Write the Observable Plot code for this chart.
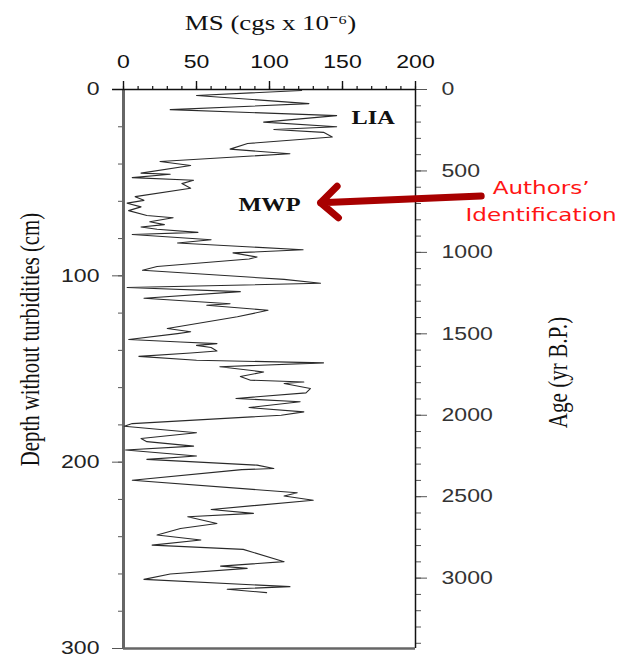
<!DOCTYPE html>
<html>
<head>
<meta charset="utf-8">
<script src="https://cdn.jsdelivr.net/npm/d3@7"></script>
<script src="https://cdn.jsdelivr.net/npm/@observablehq/plot@0.6"></script>
<style>
  html, body { margin: 0; padding: 0; background: #fff; }
  #chart svg { display: block; }
</style>
</head>
<body>
<div id="chart"></div>
<script>
// Magnetic susceptibility profile of the core, depth without turbidites
const depthCm = [
  0.5, 3.2, 7.6, 10.8, 14, 17.5, 20, 21.5, 23, 25.5, 29, 32, 34.5, 38.6, 40.8,
  44.9, 45.5, 47.3, 48.7, 50.5, 53, 57.5, 59.5, 61, 63, 65, 67.6, 68.8, 71, 72.5,
  73.8, 75, 76.7, 77.8, 80.6, 82.4, 86, 87.7, 89.9, 91, 95, 97, 101.9, 104, 106.3,
  108.5, 112, 115, 115.8, 118.5, 122, 128.3, 130, 131, 134.2, 135.5, 136.4, 137.3,
  138.5, 140.3, 141.4, 143.2, 145.3, 146.7, 148.8, 151.6, 154, 156, 157, 157.8,
  160.5, 162.8, 165.8, 167.6, 170.7, 173, 174.8, 179.3, 180.7, 184.2, 187.3, 189,
  191.4, 193.5, 196.7, 198.5, 201.6, 203.4, 204, 209.7, 216.4, 218.2, 220.4, 225.4,
  227.5, 229.3, 232.9, 235.6, 239.1, 241.8, 244.5, 246.8, 253.4, 255.8, 257, 260,
  262.9, 266.8, 268.2, 270
];
const msValues = [
  122, 50, 127, 32, 146, 96, 146, 103, 137, 143, 85, 73, 114, 25, 46,
  12, 32, 6, 48, 40, 46, 8, 14, 2.5, 12, 3.5, 16, 34, 18, 28,
  12, 23, 51, 6, 60, 37, 123, 75, 91.5, 86, 23, 13, 110, 135, 2.5,
  80, 14, 73, 57, 99, 78, 30, 46, 37, 3.6, 39, 64, 50,
  60, 64, 46, 10.5, 50, 137, 66, 96, 80, 87, 123.5, 110,
  128, 125, 77, 121, 86, 123.5, 108, 6, 0.5, 50, 12, 16,
  48, 1.4, 50, 16, 91.5, 103, 81, 6, 119, 110, 130, 60,
  89, 44, 64, 39, 23, 53, 19.6, 82, 110, 66.5, 84.7, 32,
  14, 114, 71, 98
];

// Axis ticks
const msMajorTicks = [0, 50, 100, 150, 200];
const msMinorTicks = d3.range(0, 201, 10);
const depthMajorTicks = [0, 100, 200, 300];
const depthMinorTicks = d3.range(0, 301, 20);
const ageMajorTicks = [0, 500, 1000, 1500, 2000, 2500, 3000];
const ageMinorTicks = d3.range(0, 3401, 100);

// Linear age model: years B.P. per cm of depth
const YEARS_PER_CM = 11.44;
const ageToDepth = (a) => a / YEARS_PER_CM;

// Period labels and the highlighted interpretation
const periodLabels = [
  {text: "LIA", ms: 171, depth: 15.3},
  {text: "MWP", ms: 100, depth: 62.1}
];
const noteLines = [
  {text: "Authors\u2019", ms: 286, depth: 52.8},
  {text: "Identification", ms: 286, depth: 67.5}
];
const noteArrow = [{ms1: 245, depth1: 57.2, ms2: 135, depth2: 60.8}];

const profile = depthCm.map((d, i) => ({depth: d, ms: msValues[i]}));

const sans = "'Liberation Sans', Arial, sans-serif";
const serif = "'Liberation Serif', 'Times New Roman', serif";
const verdana = "'DejaVu Sans', Verdana, sans-serif";

const chart = Plot.plot({
  width: 623,
  height: 656,
  marginTop: 89,
  marginBottom: 8,
  marginLeft: 123,
  marginRight: 208,
  style: {fontFamily: sans, fontSize: "18px", background: "#fff", color: "#111", overflow: "visible"},
  x: {domain: [0, 200], axis: null, label: null},
  y: {domain: [0, 300], reverse: true, axis: null, label: null},
  marks: [
    // top axis (MS)
    Plot.axisX({anchor: "top", ticks: msMinorTicks, tickSize: 4, tickFormat: () => "", label: null, strokeWidth: 1.2}),
    Plot.axisX({anchor: "top", ticks: msMajorTicks, tickSize: 9, tickPadding: 13, label: null, strokeWidth: 1.4, fontSize: 18, fill: "#111"}),
    // left axis (depth)
    Plot.axisY({anchor: "left", ticks: depthMinorTicks, tickSize: 5, tickFormat: () => "", label: null, stroke: "#555"}),
    Plot.axisY({anchor: "left", ticks: depthMajorTicks, tickSize: 11, tickPadding: 13, label: null, stroke: "#555", fill: "#222", fontSize: 18}),
    // right axis (age)
    Plot.axisY({anchor: "right", ticks: ageMinorTicks.map(ageToDepth), tickSize: 5, tickFormat: () => "", label: null, stroke: "#555"}),
    Plot.axisY({anchor: "right", ticks: ageMajorTicks.map(ageToDepth), tickSize: 11, tickPadding: 15,
      tickFormat: (d) => String(Math.round(d * YEARS_PER_CM)), label: null, stroke: "#555", fill: "#333", fontSize: 18}),
    // frame
    Plot.ruleX([0], {stroke: "#666", strokeWidth: 3}),
    Plot.ruleX([200], {stroke: "#111", strokeWidth: 1.5}),
    Plot.ruleY([0], {x1: -7.5, x2: 200, stroke: "#111", strokeWidth: 1.5}),
    Plot.ruleY([300], {stroke: "#666", strokeWidth: 2.5}),
    // MS profile
    Plot.line(profile, {x: "ms", y: "depth", stroke: "#2a2a2a", strokeWidth: 1.1, curve: "linear"}),
    // period labels
    Plot.text(periodLabels, {x: "ms", y: "depth", text: "text", fontFamily: serif, fontWeight: "bold", fontSize: 19, fill: "#111"}),
    // arrow and note
    Plot.arrow(noteArrow, {x1: "ms1", y1: "depth1", x2: "ms2", y2: "depth2", stroke: "#a80000", strokeWidth: 7,
      strokeLinecap: "round", strokeLinejoin: "round", headLength: 5, headAngle: 85}),
    Plot.text(noteLines, {x: "ms", y: "depth", text: "text", fontFamily: verdana, fontSize: 18, fill: "#ff1414"}),
    // axis titles
    Plot.text(["MS (cgs x 10\u207B\u2076)"], {frameAnchor: "top", dx: 1, dy: -66, textAnchor: "middle", lineAnchor: "middle",
      fontFamily: serif, fontSize: 21, fill: "#111"}),
    Plot.text(["Depth without turbidities (cm)"], {frameAnchor: "left", dx: -93, dy: -29.5, rotate: -90, textAnchor: "middle", lineAnchor: "middle",
      fontFamily: serif, fontSize: 26.6, fill: "#111"}),
    Plot.text(["Age (yr B.P.)"], {frameAnchor: "right", dx: 143, dy: 3.5, rotate: -90, textAnchor: "middle", lineAnchor: "middle",
      fontFamily: serif, fontSize: 27, fill: "#111"})
  ]
});

document.getElementById("chart").append(chart);

// The lettering of this figure is drawn horizontally widened; keep each text on its anchor
const STRETCH = 1.28;
chart.querySelectorAll("text").forEach((t) => {
  if (!t.textContent.trim()) return;
  const own = t.getAttribute("transform") || "";
  const parent = (t.parentNode && t.parentNode.getAttribute && t.parentNode.getAttribute("transform")) || "";
  const rotated = own.includes("rotate") || parent.includes("rotate");
  const before = t.getBBox();
  const w = t.getComputedTextLength();
  t.setAttribute("textLength", rotated ? w / STRETCH : w * STRETCH);
  t.setAttribute("lengthAdjust", "spacingAndGlyphs");
  const after = t.getBBox();
  const anchor = getComputedStyle(t).textAnchor;
  let shift;
  if (anchor === "end") shift = (before.x + before.width) - (after.x + after.width);
  else if (anchor === "middle") shift = (before.x + before.width / 2) - (after.x + after.width / 2);
  else shift = before.x - after.x;
  if (Math.abs(shift) > 0.01) t.setAttribute("dx", shift);
});
</script>
</body>
</html>
